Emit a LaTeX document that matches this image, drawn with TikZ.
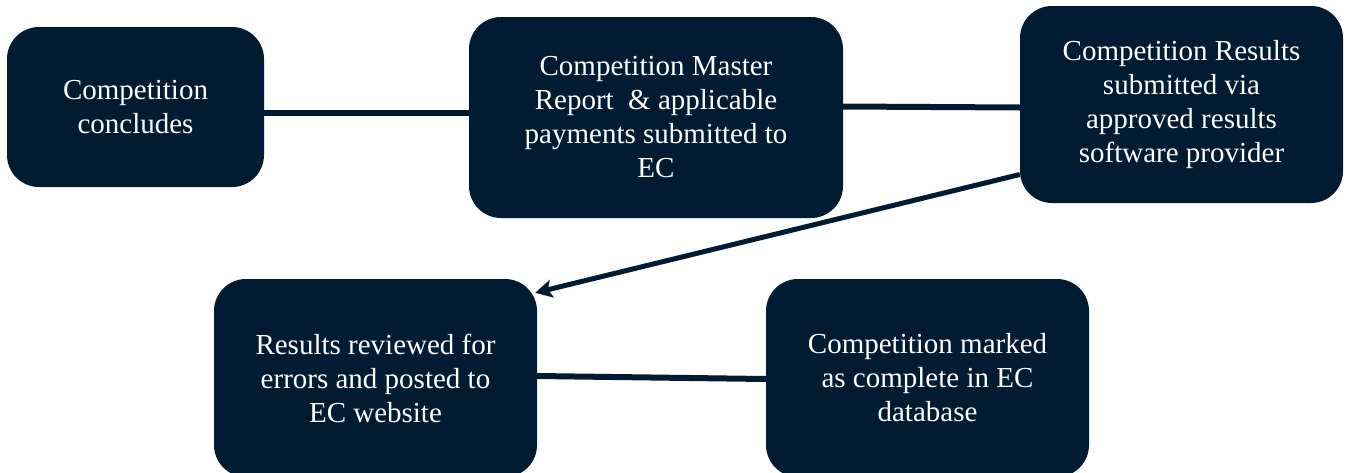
\documentclass[tikz,border=0pt]{standalone}
\usepackage{fontspec}
\setmainfont{Liberation Serif}
\newfontfamily\ecserif{Liberation Serif}
\usetikzlibrary{arrows.meta}
\definecolor{ecnavy}{RGB}{1,27,51}
\tikzset{
  stage/.style={rectangle, rounded corners=32pt, fill=ecnavy, text=white,
    align=center, inner sep=0pt, font=\ecserif\fontsize{29}{34}\selectfont},
  link/.style={draw=ecnavy, line width=6pt},
}

\begin{document}
\begin{tikzpicture}[x=1pt,y=-1pt]
\useasboundingbox (0,0) rectangle (1348,472);
% top row
\node[stage, minimum width=257pt, minimum height=160pt] (concl) at (135.5,107) {Competition\\concludes};
\node[stage, minimum width=374pt, minimum height=201pt] (report) at (656,117.5) {Competition Master\\Report\ \ \& applicable\\payments submitted to\\EC};
\node[stage, minimum width=323pt, minimum height=197pt] (results) at (1181.5,104.5) {Competition Results\\submitted via\\approved results\\software provider};
% bottom row
\node[stage, minimum width=323pt, minimum height=198pt] (review) at (375.5,378) {Results reviewed for\\errors and posted to\\EC website};
\node[stage, minimum width=323pt, minimum height=198pt] (marked) at (927.5,378) {Competition marked\\as complete in EC\\database};
\begin{scope}[link]
\draw ([yshift=-6pt]concl.east) -- ([yshift=4.5pt]report.west);
\draw ([yshift=11pt]report.east) -- ([yshift=-3pt]results.west);
\draw[-{Stealth[length=17pt,width=18pt,inset=4pt]}, line width=5pt]
  ([yshift=-70pt]results.west) -- ([xshift=-2pt,yshift=-14pt]review.north east);
\draw ([yshift=2pt]review.east) -- ([yshift=-1pt]marked.west);
\end{scope}
\end{tikzpicture}
\end{document}
